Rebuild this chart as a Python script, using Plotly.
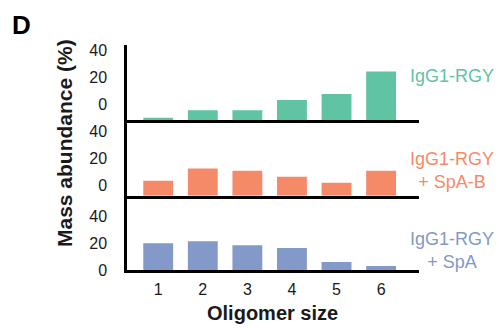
import plotly.graph_objects as go

oligomer_sizes = [1, 2, 3, 4, 5, 6]
igg1_rgy = [2, 7.5, 7.5, 15, 19.5, 36]
igg1_rgy_spab = [11, 20, 18.5, 14, 9.5, 18.5]
igg1_rgy_spa = [20, 21.5, 18.5, 16.5, 6, 3]
y_ticks = [0, 20, 40]
series_labels = ["IgG1-RGY", "IgG1-RGY<br>+ SpA-B", "IgG1-RGY<br>+ SpA"]

green = "#5fc3a4"
orange = "#f58a69"
blue = "#8399c7"
FONT = "Liberation Sans, Arial, sans-serif"

fig = go.Figure()
series = [(igg1_rgy, green, "x", "y"), (igg1_rgy_spab, orange, "x2", "y2"), (igg1_rgy_spa, blue, "x3", "y3")]
for vals, col, xa, ya in series:
    fig.add_trace(go.Bar(x=oligomer_sizes, y=vals, marker=dict(color=col, line=dict(width=0)),
                         width=0.67, xaxis=xa, yaxis=ya, showlegend=False))

domains = [[0.665, 1.0], [0.33, 0.665], [0.0, 0.33]]
shifts = [-16, -10, 0]
axis_common = dict(showline=True, linecolor="black", linewidth=2.5, showgrid=False, zeroline=False,
                   ticks="")
layout = dict(
    width=499, height=328,
    margin=dict(l=127, r=80, t=45, b=58),
    plot_bgcolor="white", paper_bgcolor="white",
    font=dict(family=FONT, size=16, color="#1a1a1a"),
    bargap=0.3,
)
for i in range(3):
    sfx = "" if i == 0 else str(i + 1)
    layout["xaxis" + sfx] = dict(axis_common, domain=[0, 1], range=[0.3, 6.85], anchor="y" + sfx,
                                 tickvals=oligomer_sizes, showticklabels=(i == 2),
                                 ticklabelstandoff=3,
                                 **({} if i == 2 else {"matches": "x3"}))
    layout["yaxis" + sfx] = dict(axis_common, domain=domains[i], range=[0, 55.5], anchor="x" + sfx,
                                 tickvals=y_ticks, ticklabelshift=shifts[i], ticklabelstandoff=14)
fig.update_layout(**layout)

PW, PH, L, R, T, B = 499, 328, 127, 80, 45, 58


def to_plot(px, py):
    return (px - L) / (PW - L - R), (PH - B - py) / (PH - T - B)


annotations = [
    dict(text="<b>D</b>", x=21, y=25, font=dict(size=26, color="black")),
    dict(text="<b>Mass abundance (%)</b>", x=64, y=143, textangle=-90, font=dict(size=21, color="#1a1a1a")),
    dict(text="<b>Oligomer size</b>", x=272, y=313, font=dict(size=20, color="#1a1a1a")),
    dict(text=series_labels[0], x=452, y=76, font=dict(size=18, color=green)),
    dict(text=series_labels[1], x=452, y=170, font=dict(size=18, color=orange)),
    dict(text=series_labels[2], x=452, y=250, font=dict(size=18, color=blue)),
]
for a in annotations:
    ax, ay = to_plot(a["x"], a["y"])
    fig.add_annotation(text=a["text"], x=ax, y=ay, xref="paper", yref="paper",
                       xanchor="center", yanchor="middle", showarrow=False, font=a["font"],
                       textangle=a.get("textangle", 0), align="center")

fig.write_html("out.html", config={"displayModeBar": False},
               post_script="document.body.style.margin='0';document.body.style.overflow='hidden';")
